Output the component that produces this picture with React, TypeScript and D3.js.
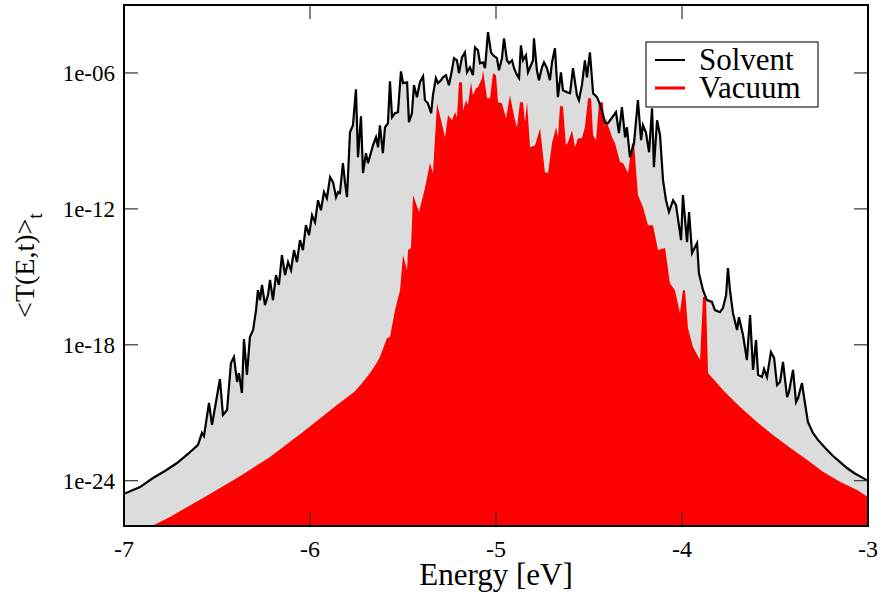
import React from "react";
import * as d3 from "d3";

// ---- Data (energy in eV, transmission as log10 values) ----
const solventEnergy = [
  -7.000, -6.914, -6.844, -6.780, -6.715, -6.656, -6.602, -6.581, -6.570, -6.543,
  -6.527, -6.484, -6.468, -6.446, -6.425, -6.409, -6.392, -6.382, -6.366, -6.355,
  -6.339, -6.323, -6.306, -6.290, -6.280, -6.269, -6.258, -6.242, -6.226, -6.215,
  -6.199, -6.183, -6.167, -6.151, -6.134, -6.118, -6.102, -6.086, -6.070, -6.054,
  -6.038, -6.022, -6.005, -5.989, -5.973, -5.957, -5.941, -5.925, -5.909, -5.892,
  -5.876, -5.860, -5.849, -5.839, -5.823, -5.812, -5.801, -5.785, -5.769, -5.753,
  -5.742, -5.726, -5.715, -5.699, -5.688, -5.672, -5.661, -5.645, -5.634, -5.624,
  -5.608, -5.597, -5.581, -5.570, -5.559, -5.543, -5.527, -5.511, -5.500, -5.478,
  -5.468, -5.452, -5.441, -5.425, -5.409, -5.392, -5.382, -5.366, -5.349, -5.339,
  -5.323, -5.312, -5.296, -5.285, -5.269, -5.253, -5.237, -5.226, -5.210, -5.199,
  -5.183, -5.167, -5.156, -5.140, -5.124, -5.113, -5.097, -5.086, -5.070, -5.059,
  -5.043, -5.027, -5.016, -4.995, -4.984, -4.968, -4.957, -4.941, -4.930, -4.914,
  -4.903, -4.887, -4.876, -4.866, -4.855, -4.839, -4.828, -4.812, -4.801, -4.796,
  -4.780, -4.769, -4.753, -4.742, -4.726, -4.710, -4.699, -4.683, -4.667, -4.651,
  -4.640, -4.618, -4.602, -4.586, -4.565, -4.554, -4.538, -4.522, -4.511, -4.495,
  -4.478, -4.457, -4.446, -4.430, -4.414, -4.398, -4.387, -4.355, -4.339, -4.323,
  -4.306, -4.296, -4.280, -4.258, -4.237, -4.220, -4.210, -4.194, -4.177, -4.161,
  -4.151, -4.134, -4.118, -4.102, -4.086, -4.070, -4.048, -4.032, -4.005, -3.995,
  -3.973, -3.962, -3.946, -3.919, -3.909, -3.887, -3.866, -3.839, -3.823, -3.796,
  -3.780, -3.763, -3.753, -3.742, -3.726, -3.704, -3.694, -3.672, -3.651, -3.634,
  -3.618, -3.602, -3.591, -3.570, -3.559, -3.543, -3.522, -3.505, -3.489, -3.473,
  -3.457, -3.435, -3.425, -3.403, -3.387, -3.376, -3.355, -3.339, -3.323, -3.296,
  -3.269, -3.231, -3.188, -3.151, -3.113, -3.075, -3.038, -3.000,
];
const solventLog10 = [
  -24.58, -24.28, -23.88, -23.57, -23.22, -22.82, -22.42, -21.89, -22.03, -20.57,
  -21.54, -19.51, -21.10, -20.88, -18.81, -18.54, -19.64, -19.25, -20.13, -17.75,
  -19.33, -17.66, -17.35, -16.47, -15.59, -16.03, -15.36, -16.25, -15.81, -15.14,
  -16.03, -14.92, -15.36, -14.04, -14.92, -14.35, -14.70, -13.82, -14.35, -13.38,
  -13.82, -12.72, -13.16, -12.28, -12.59, -11.62, -12.06, -11.26, -11.53, -10.60,
  -10.82, -11.48, -11.26, -11.31, -9.98, -10.82, -11.48, -8.62, -8.31, -6.72,
  -9.72, -7.91, -10.42, -9.54, -9.98, -9.50, -9.19, -8.84, -9.28, -8.31,
  -9.54, -8.40, -8.22, -6.37, -7.95, -7.78, -7.73, -5.93, -6.45, -6.41,
  -8.17, -7.78, -6.54, -7.07, -6.41, -6.15, -7.20, -7.34, -7.78, -6.98,
  -6.23, -6.45, -6.32, -6.19, -6.10, -6.54, -5.88, -5.35, -5.44, -6.01,
  -5.31, -5.09, -5.97, -5.75, -6.10, -4.87, -5.00, -5.57, -5.53, -5.79,
  -4.20, -5.09, -5.22, -5.35, -5.88, -5.35, -4.47, -5.44, -5.57, -5.44,
  -5.79, -6.10, -6.23, -4.78, -5.44, -5.22, -5.97, -5.66, -5.44, -4.47,
  -5.88, -6.32, -5.75, -5.53, -5.79, -6.32, -5.53, -4.91, -7.07, -5.97,
  -6.76, -6.85, -6.90, -5.79, -6.98, -7.20, -6.54, -5.44, -6.19, -5.09,
  -6.90, -7.07, -7.29, -7.65, -8.22, -8.22, -8.09, -7.73, -8.66, -7.51,
  -8.84, -8.40, -9.72, -9.10, -7.20, -8.97, -8.31, -8.62, -9.50, -7.56,
  -10.16, -8.09, -8.75, -10.73, -11.62, -12.14, -11.62, -11.84, -13.38, -11.39,
  -13.47, -12.14, -13.95, -13.51, -14.84, -15.59, -16.03, -16.11, -16.47, -16.56,
  -16.38, -15.81, -14.61, -15.59, -16.60, -17.35, -16.78, -17.57, -18.67, -16.69,
  -19.11, -17.79, -19.33, -19.42, -19.07, -19.42, -18.32, -18.58, -19.78, -19.64,
  -18.76, -20.31, -20.08, -19.11, -20.53, -20.35, -19.69, -20.57, -21.41, -21.89,
  -22.20, -22.55, -22.91, -23.17, -23.44, -23.66, -23.83, -24.01,
];

const vacuumEnergy = [
  -7.000, -6.860, -6.753, -6.575, -6.392, -6.215, -6.038, -5.855, -5.812, -5.758,
  -5.720, -5.677, -5.645, -5.624, -5.586, -5.570, -5.543, -5.516, -5.500, -5.478,
  -5.473, -5.457, -5.446, -5.414, -5.382, -5.355, -5.339, -5.317, -5.274, -5.258,
  -5.237, -5.220, -5.210, -5.199, -5.183, -5.177, -5.161, -5.151, -5.134, -5.124,
  -5.108, -5.097, -5.075, -5.070, -5.048, -5.032, -5.016, -5.000, -4.989, -4.968,
  -4.946, -4.925, -4.898, -4.887, -4.871, -4.855, -4.844, -4.833, -4.817, -4.790,
  -4.763, -4.737, -4.720, -4.699, -4.677, -4.667, -4.656, -4.640, -4.624, -4.613,
  -4.591, -4.575, -4.559, -4.538, -4.522, -4.505, -4.489, -4.478, -4.462, -4.446,
  -4.425, -4.419, -4.409, -4.398, -4.376, -4.360, -4.333, -4.317, -4.290, -4.269,
  -4.258, -4.237, -4.210, -4.183, -4.156, -4.129, -4.091, -4.065, -4.038, -4.011,
  -3.995, -3.984, -3.968, -3.941, -3.903, -3.887, -3.871, -3.860, -3.780, -3.688,
  -3.597, -3.511, -3.419, -3.328, -3.242, -3.151, -3.059, -3.000,
];
const vacuumLog10 = [
  -26.61, -26.04, -25.60, -24.76, -23.88, -22.95, -21.85, -20.66, -20.39, -20.05,
  -19.69, -19.25, -18.85, -18.54, -17.70, -17.66, -16.47, -15.59, -14.04, -14.70,
  -13.82, -13.73, -11.39, -12.14, -11.09, -9.98, -10.42, -7.34, -8.84, -7.87,
  -8.09, -7.73, -7.95, -6.41, -6.41, -7.65, -7.20, -7.42, -6.41, -6.98,
  -6.67, -6.63, -6.23, -5.88, -7.12, -7.12, -6.01, -6.10, -7.29, -7.34,
  -8.00, -6.98, -8.09, -8.40, -7.29, -7.29, -8.17, -7.29, -9.28, -9.19,
  -8.44, -10.38, -10.42, -9.10, -8.40, -8.84, -7.47, -7.47, -9.19, -9.06,
  -8.53, -9.28, -8.88, -8.88, -8.40, -7.12, -7.12, -8.75, -8.97, -7.29,
  -7.29, -8.40, -8.00, -8.31, -8.84, -9.10, -9.94, -9.98, -10.42, -9.10,
  -9.10, -11.39, -11.92, -12.72, -12.72, -13.82, -13.73, -15.28, -15.59, -16.60,
  -15.59, -15.59, -17.26, -18.10, -18.67, -15.89, -15.89, -19.25, -20.00, -20.75,
  -21.41, -21.98, -22.55, -23.08, -23.61, -24.05, -24.41, -24.72,
];

const xTicks = [-7, -6, -5, -4, -3];
const yTicks = [1e-6, 1e-12, 1e-18, 1e-24];
const yTickLabels = ["1e-06", "1e-12", "1e-18", "1e-24"];
const legendItems = [
  { label: "Solvent", color: "#000000", width: 2 },
  { label: "Vacuum", color: "#ff0000", width: 3 },
];

const W = 884;
const H = 595;
const L = 124;
const R = 868;
const T = 5;
const B = 526;

export default function App() {
  const x = d3.scaleLinear().domain([-7, -3]).range([L, R]);
  const y = d3.scaleLog().domain([1e-26, 1e-3]).range([B, T]);

  const solvent = solventEnergy.map((e, i) => [e, Math.pow(10, solventLog10[i])] as [number, number]);
  const vacuum = vacuumEnergy.map((e, i) => [e, Math.pow(10, vacuumLog10[i])] as [number, number]);

  const area = d3
    .area<[number, number]>()
    .x((d) => x(d[0]))
    .y0(B + 20)
    .y1((d) => y(d[1]));
  const line = d3
    .line<[number, number]>()
    .x((d) => x(d[0]))
    .y((d) => y(d[1]));

  const font = "'Liberation Serif', 'Times New Roman', serif";
  const tickLen = 14;
  const tickColor = "#333";

  return (
    <svg width={W} height={H} style={{ display: "block", position: "absolute", left: 0, top: 0 }}>
      <rect x={0} y={0} width={W} height={H} fill="#ffffff" />
      <defs>
        <clipPath id="plotClip">
          <rect x={L} y={T} width={R - L} height={B - T} />
        </clipPath>
      </defs>
      <g clipPath="url(#plotClip)">
        <path d={area(solvent) || ""} fill="#dcdcdc" stroke="none" />
        <path d={area(vacuum) || ""} fill="#ff0000" stroke="none" />
        <path d={line(solvent) || ""} fill="none" stroke="#000" strokeWidth={2.2} strokeLinejoin="miter" />
      </g>

      {/* ticks */}
      {xTicks.slice(1, -1).map((t) => (
        <g key={"xt" + t}>
          <line x1={x(t)} x2={x(t)} y1={B} y2={B - tickLen} stroke={tickColor} strokeWidth={1.2} />
          <line x1={x(t)} x2={x(t)} y1={T} y2={T + tickLen} stroke={tickColor} strokeWidth={1.2} />
        </g>
      ))}
      {yTicks.map((t) => (
        <g key={"yt" + t}>
          <line x1={L} x2={L + tickLen} y1={y(t)} y2={y(t)} stroke={tickColor} strokeWidth={1.2} />
          <line x1={R} x2={R - tickLen} y1={y(t)} y2={y(t)} stroke={tickColor} strokeWidth={1.2} />
        </g>
      ))}

      {/* frame */}
      <rect x={L} y={T} width={R - L} height={B - T} fill="none" stroke="#000" strokeWidth={2} />

      {/* tick labels */}
      {xTicks.map((t) => (
        <text key={"xl" + t} x={x(t)} y={557} textAnchor="middle" fontFamily={font} fontSize={24} fill="#000">
          {t}
        </text>
      ))}
      {yTicks.map((t, i) => (
        <text key={"yl" + t} x={115} y={y(t) + 8} textAnchor="end" fontFamily={font} fontSize={23} fill="#000">
          {yTickLabels[i]}
        </text>
      ))}

      {/* axis labels */}
      <text x={(L + R) / 2} y={585} textAnchor="middle" fontFamily={font} fontSize={31} fill="#000">
        Energy [eV]
      </text>
      <text
        transform={`translate(34, ${(T + B) / 2}) rotate(-90)`}
        textAnchor="middle"
        fontFamily={font}
        fontSize={28}
        fill="#000"
      >
        {"<T(E,t)>"}
        <tspan fontSize={20} dy={8}>t</tspan>
      </text>

      {/* legend */}
      <rect x={646} y={42} width={172} height={65} fill="#fff" stroke="#222" strokeWidth={1.2} />
      {legendItems.map((it, i) => (
        <g key={it.label}>
          <line x1={655} x2={685} y1={60 + i * 28} y2={60 + i * 28} stroke={it.color} strokeWidth={it.width} />
          <text x={699} y={70 + i * 28} fontFamily={font} fontSize={31} fill="#000">
            {it.label}
          </text>
        </g>
      ))}
    </svg>
  );
}
